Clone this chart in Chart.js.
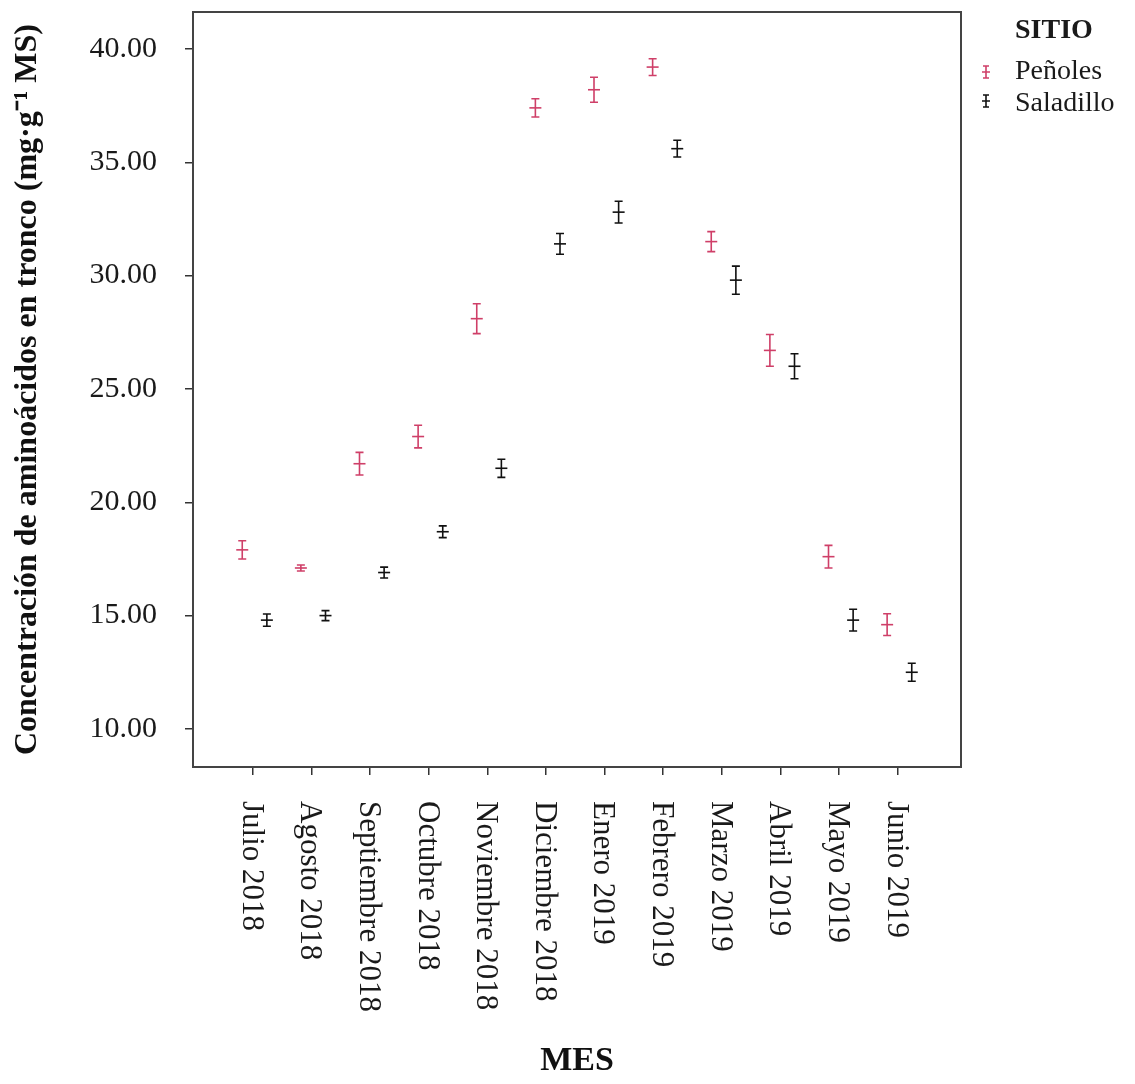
<!DOCTYPE html>
<html>
<head>
<meta charset="utf-8">
<script src="https://cdn.jsdelivr.net/npm/chart.js@4"></script>
<style>
  html,body{margin:0;padding:0;background:#fff;}
  #wrap{width:1135px;height:1084px;position:relative;}
</style>
</head>
<body>
<div id="wrap"><canvas id="c"></canvas></div>
<script>
// months on the x axis
const months = ['Julio 2018','Agosto 2018','Septiembre 2018','Octubre 2018','Noviembre 2018','Diciembre 2018',
  'Enero 2019','Febrero 2019','Marzo 2019','Abril 2019','Mayo 2019','Junio 2019'];
// Peñoles: mean and +/- error
const penolesMean = [17.9, 17.1, 21.7, 22.9, 28.1, 37.4, 38.2, 39.2, 31.5, 26.7, 17.6, 14.6];
const penolesErr  = [0.4, 0.13, 0.5, 0.5, 0.66, 0.4, 0.55, 0.37, 0.44, 0.7, 0.5, 0.48];
// Saladillo: mean and +/- error
const saladilloMean = [14.8, 15.0, 16.9, 18.7, 21.5, 31.4, 32.8, 35.6, 29.8, 26.0, 14.8, 12.5];
const saladilloErr  = [0.27, 0.22, 0.24, 0.26, 0.4, 0.46, 0.48, 0.37, 0.62, 0.55, 0.48, 0.4];
const yTicks = [10, 15, 20, 25, 30, 35, 40];

const PEN = '#cf3f68', SAL = '#111';
const SERIF = '"Liberation Serif", "Times New Roman", serif';

function pts(means, shift){
  return means.map((v,i)=>({x: i + shift, y: v}));
}

const errorBars = {
  id: 'errorBars',
  afterDatasetsDraw(chart){
    const {ctx, scales:{x, y}} = chart;
    chart.data.datasets.forEach((ds)=>{
      const errs = ds.errors;
      ctx.save();
      ctx.strokeStyle = ds.borderColor;
      ctx.lineWidth = 1.6;
      ds.data.forEach((p, j)=>{
        const px = x.getPixelForValue(p.x);
        const top = y.getPixelForValue(p.y + errs[j]);
        const bot = y.getPixelForValue(p.y - errs[j]);
        ctx.beginPath();
        ctx.moveTo(px, top); ctx.lineTo(px, bot);
        ctx.moveTo(px-4, top); ctx.lineTo(px+4, top);
        ctx.moveTo(px-4, bot); ctx.lineTo(px+4, bot);
        ctx.stroke();
      });
      ctx.restore();
    });
  }
};

const frame = {
  id: 'frame',
  afterDraw(chart){
    const {ctx, chartArea:a, scales:{x}} = chart;
    ctx.save();
    ctx.strokeStyle = '#444';
    ctx.lineWidth = 2;
    ctx.strokeRect(a.left, a.top, a.right - a.left, a.bottom - a.top);

    // month labels, rotated clockwise
    ctx.fillStyle = '#1a1a1a';
    ctx.font = '31px ' + SERIF;
    ctx.textAlign = 'left';
    ctx.textBaseline = 'middle';
    months.forEach((m, i)=>{
      const px = x.getPixelForValue(i);
      ctx.save();
      ctx.translate(px - 2, a.bottom + 34);
      ctx.rotate(Math.PI/2);
      ctx.fillText(m, 0, 0);
      ctx.restore();
    });

    // legend
    ctx.textBaseline = 'middle';
    ctx.font = 'bold 28px ' + SERIF;
    ctx.fillText('SITIO', 1015, 31);
    ctx.font = '28px ' + SERIF;
    ctx.fillText('Peñoles', 1015, 72);
    ctx.fillText('Saladillo', 1015, 104);
    [[PEN, 72], [SAL, 101]].forEach(([col, cy])=>{
      ctx.strokeStyle = col;
      ctx.lineWidth = 1.6;
      ctx.beginPath();
      ctx.moveTo(986, cy-6); ctx.lineTo(986, cy+6);
      ctx.moveTo(983, cy-6); ctx.lineTo(989, cy-6);
      ctx.moveTo(983, cy+6); ctx.lineTo(989, cy+6);
      ctx.moveTo(982, cy); ctx.lineTo(990, cy);
      ctx.stroke();
    });
    ctx.restore();
  }
};

new Chart(document.getElementById('c'), {
  type: 'scatter',
  data: {
    datasets: [
      { label: 'Peñoles', data: pts(penolesMean, -0.18), errors: penolesErr,
        borderColor: PEN, backgroundColor: PEN, pointStyle: 'line', pointRadius: 6, borderWidth: 1.6 },
      { label: 'Saladillo', data: pts(saladilloMean, 0.24), errors: saladilloErr,
        borderColor: SAL, backgroundColor: SAL, pointStyle: 'line', pointRadius: 6, borderWidth: 1.6 }
    ]
  },
  options: {
    responsive: true,
    maintainAspectRatio: false,
    animation: false,
    layout: { padding: { left: 0, top: 12, right: 174, bottom: 0 } },
    plugins: { legend: { display: false }, tooltip: { enabled: false } },
    scales: {
      x: {
        type: 'linear', min: -1.02, max: 12.08,
        afterBuildTicks: s => { s.ticks = months.map((m, i)=>({value: i})); },
        afterFit: s => { s.height = 317; s.paddingLeft = 0; s.paddingRight = 0; },
        grid: { drawOnChartArea: false, drawTicks: true, tickLength: 8, color: '#333', lineWidth: 1.5 },
        border: { display: true, color: '#444', width: 2 },
        ticks: { callback: () => '', font: { size: 10 } },
        title: { display: true, text: 'MES', color: '#111',
          font: { family: SERIF, size: 34, weight: 'bold' }, padding: { top: 0, bottom: 2 } }
      },
      y: {
        min: 8.32, max: 41.63,
        afterBuildTicks: s => { s.ticks = yTicks.map(v=>({value: v})); },
        afterFit: s => { s.width = 193; s.paddingTop = 0; s.paddingBottom = 0; },
        grid: { drawOnChartArea: false, drawTicks: true, tickLength: 8, color: '#333', lineWidth: 1.5 },
        border: { display: true, color: '#444', width: 2 },
        ticks: { padding: 28, color: '#1a1a1a', font: { family: SERIF, size: 30 },
          callback: v => Number(v).toFixed(2) },
        title: { display: true, text: 'Concentración de aminoácidos en tronco (mg·g⁻¹ MS)', color: '#111',
          font: { family: SERIF, size: 32, weight: 'bold' }, padding: { top: 9, bottom: 0 } }
      }
    }
  },
  plugins: [errorBars, frame]
});
</script>
</body>
</html>
